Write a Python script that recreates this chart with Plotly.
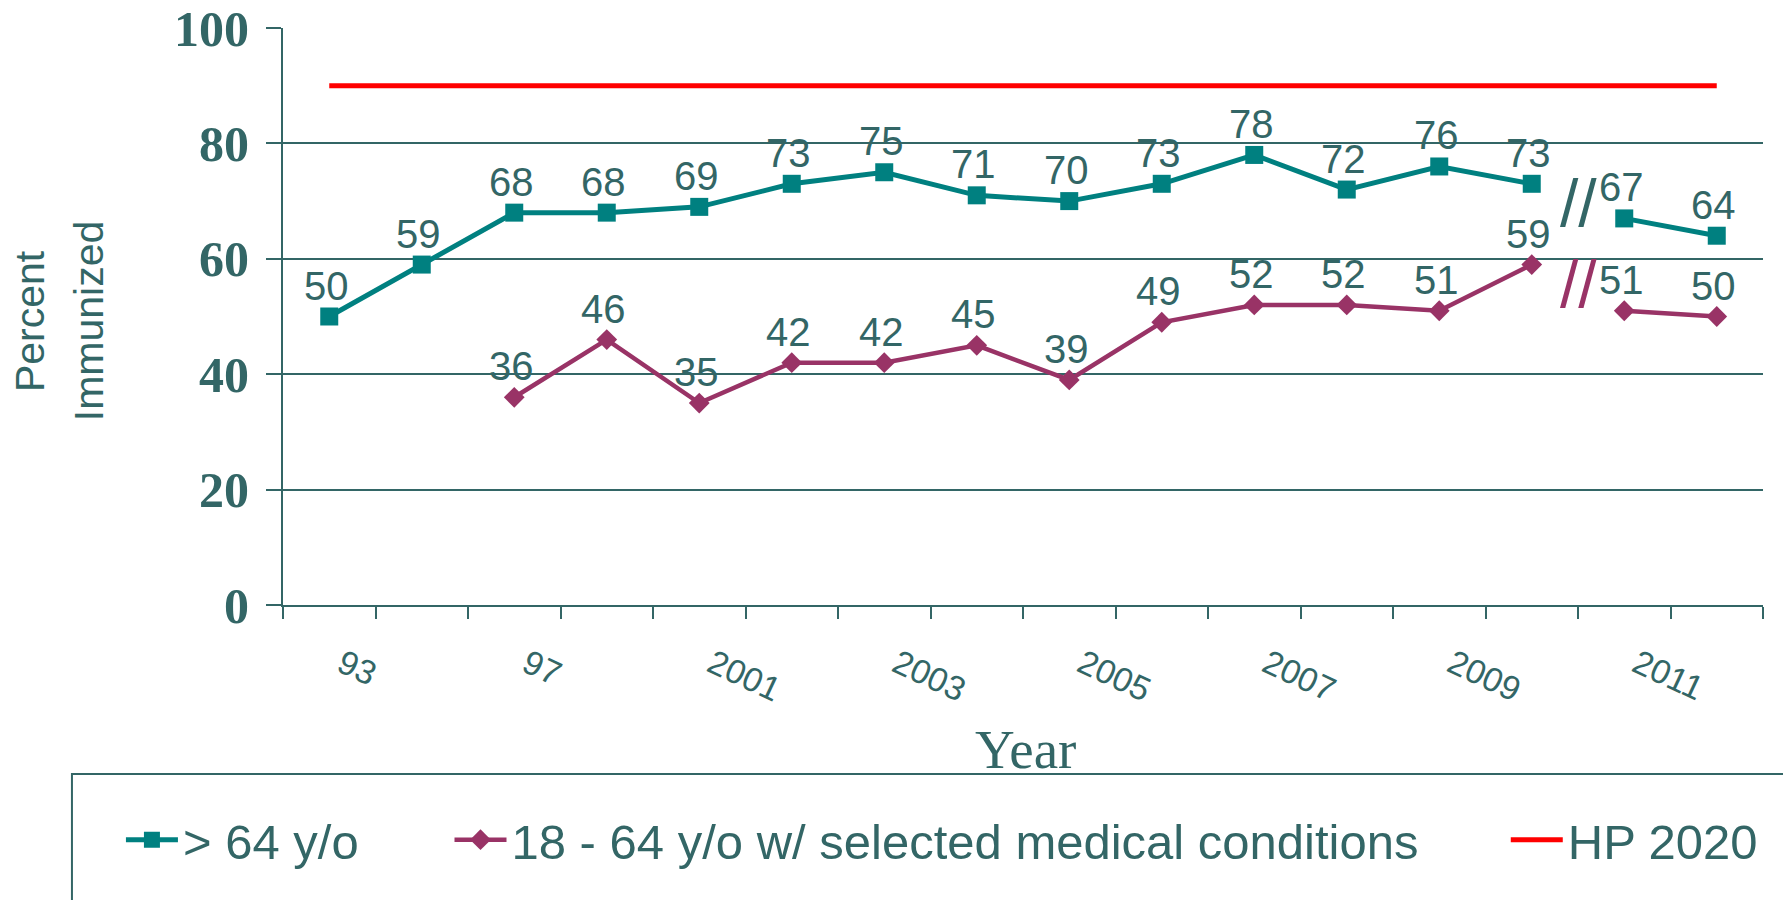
import plotly.graph_objects as go

# ---------------- data ----------------
categories = ["1993", "1995", "1997", "1999", "2001", "2002", "2003", "2004",
              "2005", "2006", "2007", "2008", "2009", "2010", "2011", "2012"]
tick_labels = ["93", "", "97", "", "2001", "", "2003", "", "2005", "",
               "2007", "", "2009", "", "2011", ""]
over_64 = [50, 59, 68, 68, 69, 73, 75, 71, 70, 73, 78, 72, 76, 73, 67, 64]
adults_18_64 = [None, None, 36, 46, 35, 42, 42, 45, 39, 49, 52, 52, 51, 59, 51, 50]
hp_2020 = [90, 90, 90, 90, 90, 90, 90, 90, 90, 90, 90, 90, 90, 90, 90, 90]
break_at = 14          # series are interrupted between index 13 and 14
break_mark_y = {"over": 69.6, "adult": 55.6}

names = ["> 64 y/o", "18 - 64 y/o w/ selected medical conditions", "HP 2020"]

TEAL = "#008080"
PURPLE = "#993366"
RED = "#FF0000"
TXT = "#336666"
SANS = "Liberation Sans, Arial, sans-serif"
SERIF = "Liberation Serif, Times New Roman, serif"

fig = go.Figure()

# target line
fig.add_trace(go.Scatter(x=categories, y=hp_2020, mode="lines", name=names[2],
                         line=dict(color=RED, width=5), legend="legend3",
                         hoverinfo="skip"))

# > 64 series (two segments)
for i, (xs, ys) in enumerate([(categories[:break_at], over_64[:break_at]),
                              (categories[break_at:], over_64[break_at:])]):
    fig.add_trace(go.Scatter(x=xs, y=ys, mode="lines+markers", name=names[0],
                             line=dict(color=TEAL, width=5),
                             marker=dict(symbol="square", size=18, color=TEAL),
                             showlegend=(i == 0), legend="legend"))

# 18-64 series (two segments)
for i, (xs, ys) in enumerate([(categories[:break_at], adults_18_64[:break_at]),
                              (categories[break_at:], adults_18_64[break_at:])]):
    fig.add_trace(go.Scatter(x=xs, y=ys, mode="lines+markers", name=names[1],
                             line=dict(color=PURPLE, width=4.5),
                             marker=dict(symbol="diamond", size=16, color=PURPLE),
                             showlegend=(i == 0), legend="legend2",
                             connectgaps=False))

annotations = []
# data labels (x given as category index)
for series in (over_64, adults_18_64):
    for idx, v in enumerate(series):
        if v is None:
            continue
        annotations.append(dict(x=idx, y=v, text=str(v), showarrow=False,
                                xref="x", yref="y", xanchor="center", yanchor="middle",
                                yshift=31, xshift=-3,
                                font=dict(family=SANS, size=40, color=TXT)))

# break marks
annotations.append(dict(x=break_at - 0.5, y=break_mark_y["over"], text="//", showarrow=False,
                        xref="x", yref="y", xanchor="center", yanchor="middle",
                        font=dict(family=SANS, size=66, color=TXT)))
annotations.append(dict(x=break_at - 0.5, y=break_mark_y["adult"], text="//", showarrow=False,
                        xref="x", yref="y", xanchor="center", yanchor="middle",
                        font=dict(family=SANS, size=66, color=PURPLE)))

# y-axis title (two lines)
annotations.append(dict(x=-0.171, y=0.492, xref="paper", yref="paper", text="Percent",
                        textangle=-90, showarrow=False, xanchor="center", yanchor="middle",
                        font=dict(family=SANS, size=41, color=TXT)))
annotations.append(dict(x=-0.131, y=0.492, xref="paper", yref="paper", text="Immunized",
                        textangle=-90, showarrow=False, xanchor="center", yanchor="middle",
                        font=dict(family=SANS, size=41, color=TXT)))
# x-axis title
annotations.append(dict(x=0.502, y=-0.2496, xref="paper", yref="paper", text="Year",
                        showarrow=False, xanchor="center", yanchor="middle",
                        font=dict(family=SERIF, size=55, color=TXT)))

legend_common = dict(orientation="h", yanchor="middle", xanchor="left", y=-0.407,
                     font=dict(family=SANS, size=49, color=TXT), itemwidth=52,
                     bgcolor="rgba(0,0,0,0)", borderwidth=0)

fig.update_layout(
    width=1783, height=900,
    margin=dict(l=283, r=20, t=28, b=295, pad=0, autoexpand=False),
    paper_bgcolor="white", plot_bgcolor="white",
    font=dict(family=SANS, color=TXT),
    xaxis=dict(type="category", categoryorder="array", categoryarray=categories,
               tickmode="array", tickvals=categories, ticktext=tick_labels,
               tickson="boundaries", ticks="outside", ticklen=12, tickwidth=2,
               tickcolor=TXT, showgrid=False, showline=True, linecolor=TXT,
               linewidth=2, tickangle=25, ticklabelstandoff=24, ticklabelshift=13,
               automargin=False,
               tickfont=dict(family=SANS, size=34, color=TXT),
               range=[-0.5, 15.5], zeroline=False),
    yaxis=dict(range=[0, 100], tickvals=[0, 20, 40, 60, 80, 100], showgrid=True,
               gridcolor=TXT, gridwidth=2, showline=True, linecolor=TXT, linewidth=2,
               ticks="outside", ticklen=15, tickwidth=2, tickcolor=TXT,
               ticklabelstandoff=7, zeroline=False, automargin=False,
               tickfont=dict(family=SERIF, size=50, color=TXT, weight="bold")),
    legend=dict(x=-0.1095, **legend_common),
    legend2=dict(x=0.1125, **legend_common),
    legend3=dict(x=0.8262, **legend_common),
    annotations=annotations,
    shapes=[dict(type="rect", xref="paper", yref="paper", x0=-0.1426, x1=1.03,
                 y0=-0.2929, y1=-0.56, line=dict(color=TXT, width=2),
                 fillcolor="rgba(0,0,0,0)", layer="below")],
    showlegend=True,
)

fig.write_html("out.html", config={"displayModeBar": False},
               post_script="document.body.style.margin='0';")
